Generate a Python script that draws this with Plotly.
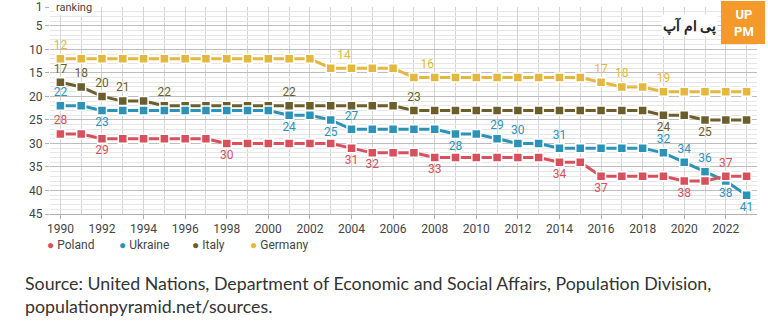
import plotly.graph_objects as go

years = list(range(1990, 2024))
poland = [28, 28, 29, 29, 29, 29, 29, 29, 30, 30, 30, 30, 30, 30, 31, 32, 32, 32,
          33, 33, 33, 33, 33, 33, 34, 34, 37, 37, 37, 37, 38, 38, 37, 37]
ukraine = [22, 22, 23, 23, 23, 23, 23, 23, 23, 23, 23, 24, 24, 25, 27, 27, 27, 27,
           27, 28, 28, 29, 30, 30, 31, 31, 31, 31, 31, 32, 34, 36, 38, 41]
italy = [17, 18, 20, 21, 21, 22, 22, 22, 22, 22, 22, 22, 22, 22, 22, 22, 22, 23,
         23, 23, 23, 23, 23, 23, 23, 23, 23, 23, 23, 24, 24, 25, 25, 25]
germany = [12, 12, 12, 12, 12, 12, 12, 12, 12, 12, 12, 12, 12, 14, 14, 14, 14, 16,
           16, 16, 16, 16, 16, 16, 16, 16, 17, 18, 18, 19, 19, 19, 19, 19]

# years at which value labels are shown, with their placement
poland_labels = {1990: "top center", 1992: "bottom center", 1998: "bottom center",
                 2004: "bottom center", 2005: "bottom center", 2008: "bottom center",
                 2014: "bottom center", 2016: "bottom center", 2020: "bottom center",
                 2022: "top center"}
ukraine_labels = {1990: "top center", 1992: "bottom center", 2001: "bottom center",
                  2003: "bottom center", 2004: "top center", 2009: "bottom center",
                  2011: "top center", 2012: "top center", 2014: "top center",
                  2019: "top center", 2020: "top center", 2021: "top center",
                  2022: "bottom center", 2023: "bottom center"}
italy_labels = {1990: "top center", 1991: "top center", 1992: "top center",
                1993: "top center", 1995: "top center", 2001: "top center",
                2007: "top center", 2019: "bottom center", 2021: "bottom center"}
germany_labels = {1990: "top center", 2003: "top right", 2007: "top right",
                  2016: "top center", 2017: "top center", 2019: "top center"}

series = [
    ("Poland", poland, "#d8505c", poland_labels),
    ("Ukraine", ukraine, "#2b93b8", ukraine_labels),
    ("Italy", italy, "#6b5e2b", italy_labels),
    ("Germany", germany, "#e4b83e", germany_labels),
]

fig = go.Figure()
for name, vals, color, labels in series[::-1]:
    texts = [str(v) if y in labels else "" for y, v in zip(years, vals)]
    poss = [labels.get(y, "top center") for y in years]
    fig.add_trace(go.Scatter(
        x=years, y=vals, mode="lines+markers+text", name=name,
        line=dict(color=color, width=3),
        marker=dict(symbol="square", size=9, color=color,
                    line=dict(color="white", width=1.5)),
        text=texts, textposition=poss,
        textfont=dict(color=color, size=12, family="Roboto"),
        showlegend=False, cliponaxis=False,
    ))

fig.update_layout(
    width=768, height=330,
    margin=dict(l=50, r=11, t=7, b=116, autoexpand=False),
    paper_bgcolor="white", plot_bgcolor="white",
    font=dict(family="Roboto", color="#444"),
    showlegend=False,
    xaxis=dict(range=[1989.5, 2023.5], tickmode="linear", tick0=1990, dtick=2,
               showgrid=True, gridcolor="#d4d4d4", gridwidth=1,
               minor=dict(dtick=1, tick0=1990, showgrid=True, gridcolor="#d4d4d4"),
               showline=True, linecolor="#b0b0b0", linewidth=1,
               ticks="outside", ticklen=4, tickcolor="#b0b0b0",
               tickfont=dict(size=12, color="#444"), zeroline=False,
               automargin=False),
    yaxis=dict(range=[45, 1], tickvals=[1, 5, 10, 15, 20, 25, 30, 35, 40, 45],
               showgrid=True, gridcolor="#bdbdbd", gridwidth=1,
               minor=dict(dtick=1, tick0=0, showgrid=True, gridcolor="#e6e6e6"),
               ticks="outside", ticklen=4, tickcolor="#b0b0b0",
               tickfont=dict(size=12, color="#444"), zeroline=False,
               automargin=False),
)

def px_x(p):
    return (p - 50) / 707

def px_y(p):
    return (214 - p) / 207

# legend built as annotations
legend_x = [45, 117, 190, 248]
for (name, vals, color, labels), lx in zip(series, legend_x):
    fig.add_annotation(x=px_x(lx), y=px_y(245), xref="paper", yref="paper",
                       text=f"<span style='color:{color}'>●</span> {name}",
                       showarrow=False, xanchor="left", yanchor="middle",
                       font=dict(size=12, color="#444", family="Roboto"))

fig.add_annotation(x=0.005, y=1, xref="paper", yref="y", text="ranking",
                   showarrow=False, xanchor="left", yanchor="middle",
                   bgcolor="white", font=dict(size=11, color="#444"))

fig.add_annotation(x=px_x(23), y=px_y(270), xref="paper", yref="paper",
                   text="Source: United Nations, Department of Economic and Social Affairs, Population Division,<br>populationpyramid.net/sources.",
                   showarrow=False, xanchor="left", yanchor="top", align="left",
                   font=dict(size=17.8, color="#333", family="Lato"))

# watermark logo
fig.add_shape(type="rect", xref="paper", yref="paper", x0=px_x(721), x1=px_x(765),
              y0=px_y(44), y1=px_y(1), fillcolor="#f39a2a",
              line=dict(width=0), layer="above")
fig.add_annotation(x=px_x(744), y=px_y(23), xref="paper", yref="paper",
                   text="<b>UP<br>PM</b>", showarrow=False,
                   xanchor="center", yanchor="middle",
                   font=dict(size=13, color="white", family="Roboto"))
fig.add_annotation(x=px_x(689), y=px_y(25), xref="paper", yref="paper",
                   text="<b>پی ام آپ</b>", showarrow=False, bgcolor="white",
                   xanchor="center", yanchor="middle",
                   font=dict(size=14, color="#222", family="Noto Sans"))

fig.write_html("out.html")
